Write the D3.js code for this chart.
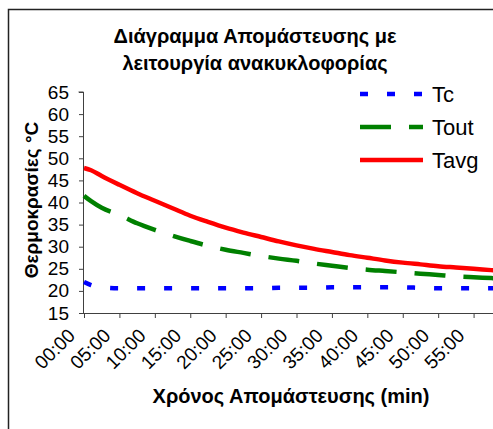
<!DOCTYPE html>
<html>
<head>
<meta charset="utf-8">
<script src="https://cdn.jsdelivr.net/npm/d3@7"></script>
<style>
  body { margin: 0; background: #fff; }
  svg { display: block; font-family: "Liberation Sans", Arial, sans-serif; }
</style>
</head>
<body>
<div id="wrapper"></div>
<script>
// minutes since start of milking
const minutes = [0, 1, 2.5, 5, 7.5, 10, 12.5, 15, 17.5, 20, 22.5, 25, 27.5, 30, 32.5, 35, 37.5, 40, 42.5, 45, 47.5, 50, 52.5, 55, 57.5, 60];
const tc   = [22.0, 21.3, 20.8, 20.6, 20.6, 20.6, 20.6, 20.6, 20.6, 20.6, 20.6, 20.6, 20.7, 20.7, 20.7, 20.8, 20.8, 20.8, 20.8, 20.8, 20.7, 20.6, 20.6, 20.6, 20.6, 20.6];
const tout = [41.5, 40.3, 38.8, 37.2, 35.3, 33.8, 32.5, 31.3, 30.2, 29.3, 28.6, 27.9, 27.3, 26.8, 26.2, 25.7, 25.2, 24.8, 24.5, 24.2, 23.9, 23.6, 23.3, 23.1, 22.9, 22.7];
const tavg = [47.8, 47.3, 46.0, 44.0, 42.1, 40.4, 38.7, 37.0, 35.6, 34.3, 33.2, 32.2, 31.2, 30.3, 29.5, 28.8, 28.1, 27.5, 26.9, 26.4, 26.0, 25.6, 25.3, 25.0, 24.7, 24.4];
const seriesNames = ["Tc", "Tout", "Tavg"];
const xTicks = [0, 5, 10, 15, 20, 25, 30, 35, 40, 45, 50, 55];
const xLabels = ["00:00", "05:00", "10:00", "15:00", "20:00", "25:00", "30:00", "35:00", "40:00", "45:00", "50:00", "55:00"];
const yTicks = [15, 20, 25, 30, 35, 40, 45, 50, 55, 60, 65];

const W = 493, H = 429;
var svg = d3.select("#wrapper").append("svg").attr("width", W).attr("height", H);

// chart frame (right and bottom edges fall outside the picture)
svg.append("path").attr("d", "M8.5," + H + "V9.5H" + W)
  .attr("fill", "none").attr("stroke", "#222").attr("stroke-width", 1.5);

var x = d3.scaleLinear().domain([0, 60]).range([84, 509]);
var y = d3.scaleLinear().domain([15, 65]).range([313, 92]);

const styles = [
  { color: "#0000ff", dash: "8,19" },
  { color: "#008000", dash: "31,18" },
  { color: "#ff0000", dash: null }
];
const values = [tc, tout, tavg];

var line = d3.line()
  .x(function(d) { return x(d[0]); })
  .y(function(d) { return y(d[1]); })
  .curve(d3.curveMonotoneX);

// axes
var yAxisCall = d3.axisLeft(y).tickValues(yTicks).tickSize(5).tickPadding(10);
var xAxisCall = d3.axisBottom(x).tickValues(xTicks).tickSize(5)
  .tickFormat(function(d, i) { return xLabels[i]; });

var gy = svg.append("g").attr("transform", "translate(84,0)").call(yAxisCall);
gy.select(".domain").attr("d", "M-0.5," + y(15) + "V" + y(65) + "h-5");
var gx = svg.append("g").attr("transform", "translate(0,313)").call(xAxisCall);
gx.select(".domain").attr("d", "M84,0.5H" + W);
svg.selectAll(".domain, .tick line").attr("stroke", "#404040");
gy.selectAll("text").style("font-size", "19px").attr("fill", "#000");
gx.selectAll("text").style("font-size", "19px").attr("fill", "#000")
  .style("text-anchor", "end").attr("dy", "0.35em").attr("y", 0).attr("x", 0)
  .attr("transform", "translate(-13,19) rotate(-45)");

// series
values.forEach(function(v, i) {
  svg.append("path")
    .datum(minutes.map(function(m, j) { return [m, v[j]]; }))
    .attr("fill", "none")
    .attr("stroke", styles[i].color)
    .attr("stroke-width", 4.5)
    .attr("stroke-dasharray", styles[i].dash)
    .attr("d", line);
});

// legend
var legend = svg.append("g").selectAll("g").data(seriesNames).enter().append("g")
  .attr("transform", function(d, i) { return "translate(360," + (94 + i * 33) + ")"; });
legend.append("line").attr("x1", 0).attr("x2", 63)
  .attr("stroke", function(d, i) { return styles[i].color; })
  .attr("stroke-width", 4.5)
  .attr("stroke-dasharray", function(d, i) { return styles[i].dash; });
legend.append("text").attr("x", 72).attr("y", 8).style("font-size", "22px")
  .text(function(d) { return d; });

// titles
var title = svg.append("text").attr("x", 255).attr("text-anchor", "middle")
  .style("font-size", "20px").style("font-weight", "bold");
title.append("tspan").attr("x", 255).attr("y", 43).text("Διάγραμμα Απομάστευσης με");
title.append("tspan").attr("x", 255).attr("y", 70).text("λειτουργία ανακυκλοφορίας");

svg.append("text").attr("transform", "translate(38,200) rotate(-90)")
  .attr("text-anchor", "middle").style("font-size", "19px").style("font-weight", "bold")
  .text("Θερμοκρασίες °C");

svg.append("text").attr("x", 291).attr("y", 403).attr("text-anchor", "middle")
  .style("font-size", "20px").style("font-weight", "bold")
  .text("Χρόνος Απομάστευσης (min)");
</script>
</body>
</html>
